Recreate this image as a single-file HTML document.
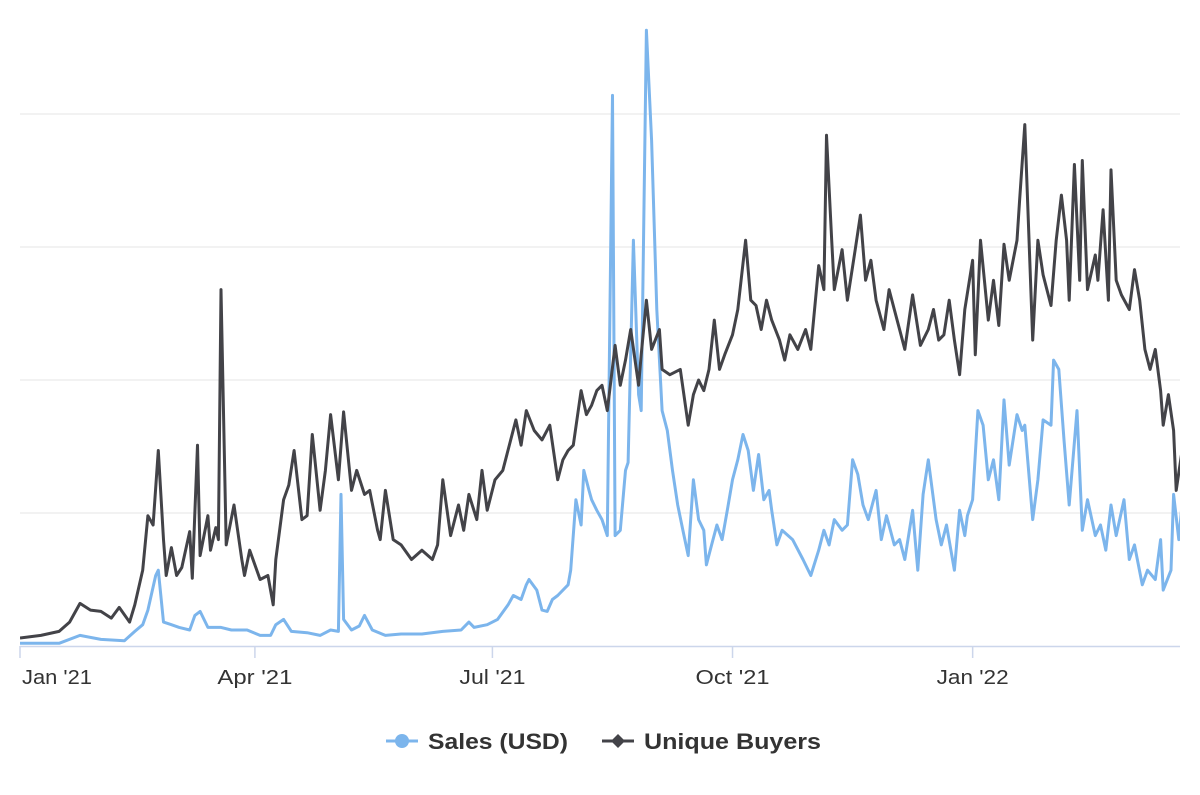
<!DOCTYPE html>
<html><head><meta charset="utf-8"><style>
html,body{margin:0;padding:0;background:#fff;}
svg{display:block;font-family:"Liberation Sans",sans-serif;}
</style></head><body>
<svg id="chart" width="1200" height="795" viewBox="0 0 1200 795" xmlns="http://www.w3.org/2000/svg">
<g id="grid"></g>
<g id="xaxis"></g>
<g id="series"></g>
<g id="legend">
  <g>
    <line x1="386" y1="741" x2="418" y2="741" stroke="#7cb5ec" stroke-width="3"/>
    <circle cx="402" cy="741" r="7" fill="#7cb5ec"/>
    <text x="428" y="749" font-size="22" font-weight="bold" fill="#333" textLength="140" lengthAdjust="spacingAndGlyphs">Sales (USD)</text>
  </g>
  <g>
    <line x1="602" y1="741" x2="634" y2="741" stroke="#434348" stroke-width="3"/>
    <path d="M618 734 L625 741 L618 748 L611 741 Z" fill="#434348"/>
    <text x="644" y="749" font-size="22" font-weight="bold" fill="#333" textLength="177" lengthAdjust="spacingAndGlyphs">Unique Buyers</text>
  </g>
</g>
</svg>
<script>
const buyerDays=[0,8,15,19,23,27,31,35,38,42,44,47,49,51,53,55,56,58,60,62,65,66,68,69,72,73,75,76,77,79,82,85,86,88,92,95,97,98,101,103,105,108,110,112,115,117,119,122,124,127,129,132,134,137,138,140,143,146,150,154,158,160,162,165,168,170,172,175,177,179,182,185,188,190,192,194,197,200,203,206,208,210,212,215,217,219,221,223,225,228,230,232,234,237,238,240,242,245,246,249,253,256,258,260,262,264,266,268,270,273,275,278,280,282,284,286,288,291,293,295,298,301,303,306,308,309,311,312,315,317,320,322,324,326,328,331,333,335,337,339,342,345,348,350,352,354,356,358,360,362,365,366,368,371,373,375,377,379,382,383,385,388,390,392,395,397,399,401,402,404,406,407,409,412,413,415,417,418,420,422,425,427,429,431,433,435,437,438,440,442,443,445,446];
const buyerValues=[6,8,11,18,32,27,26,21,29,18,31,57,98,91,147,80,53,74,53,59,86,51,151,68,98,72,89,80,268,76,106,65,53,72,50,53,31,65,110,121,147,95,98,159,102,132,174,125,176,117,132,114,117,87,80,117,80,76,65,72,65,76,125,83,106,87,114,95,132,102,125,132,155,170,151,177,162,155,166,125,140,147,151,192,174,181,192,196,177,226,196,215,238,196,219,260,223,238,208,204,208,166,189,200,192,208,245,208,219,234,253,305,260,256,238,260,245,230,215,234,223,238,223,286,268,384,305,268,298,260,298,324,275,290,260,238,268,253,238,223,264,226,238,253,230,234,260,230,204,253,290,219,305,245,275,241,302,275,305,335,392,230,305,279,256,305,339,305,260,362,275,365,268,294,275,328,260,358,275,264,253,283,260,223,208,223,192,166,189,162,117,144,146];
const salesDays=[0,15,23,31,40,44,47,49,52,53,55,58,61,65,67,69,72,77,81,87,92,96,98,101,104,110,115,119,122,123,124,127,130,132,135,140,146,154,162,169,172,174,179,183,187,189,192,194,195,198,200,202,204,206,210,211,213,215,216,218,219,221,223,225,227,228,230,232,233,235,237,238,240,242,244,246,248,250,252,254,256,258,260,262,263,265,267,269,271,273,275,277,279,281,283,285,287,288,290,292,296,300,303,306,308,310,312,315,317,319,321,323,325,328,330,332,335,337,339,342,344,346,348,351,353,355,358,360,362,363,365,367,369,371,373,375,377,379,382,384,385,388,390,392,395,396,398,400,402,405,407,409,412,414,416,418,420,423,425,427,430,432,435,437,438,441,442,444,445,446];
const salesValues=[2,2,8,5,4,11,16,27,53,57,18,16,14,12,23,26,14,14,12,12,8,8,16,20,11,10,8,12,11,114,20,12,15,23,12,8,9,9,11,12,18,14,16,20,31,38,35,46,50,42,27,26,35,38,46,57,110,91,132,117,110,102,95,83,414,83,87,132,138,305,189,177,463,380,253,177,162,132,106,87,68,125,95,87,61,76,91,80,102,125,140,159,147,117,144,110,117,102,76,87,80,65,53,72,87,76,95,87,91,140,129,106,95,117,80,98,76,80,65,102,57,114,140,95,76,91,57,102,83,98,110,177,166,125,140,110,185,136,174,162,166,95,125,170,166,215,208,155,106,177,87,110,83,91,72,106,83,110,65,76,46,57,50,80,42,57,114,80,102,53];
const tickDays=[0,90,181,273,365];
const tickLabels=["Jan '21","Apr '21","Jul '21","Oct '21","Jan '22"];
const gridValues=[100,200,300,400];

const NS="http://www.w3.org/2000/svg";
const X0=20,X1=1180,Y0=646;
const labelWidths=[70,75,66,74,72];
function xScale(d){return X0+d*2.61;}
function yScale(v){return Y0-v*1.33;}
function mk(tag,attrs,parent){const e=document.createElementNS(NS,tag);for(const k in attrs)e.setAttribute(k,attrs[k]);parent.appendChild(e);return e;}

const grid=document.getElementById('grid');
gridValues.forEach(v=>{
  const l=mk('line',{x1:X0,x2:X1,y1:yScale(v),y2:yScale(v),stroke:'#e6e6e6','stroke-width':1},grid);
  
  
});
const xa=document.getElementById('xaxis');
const axl=mk('line',{x1:X0,x2:X1,y1:Y0+0.5,y2:Y0+0.5,stroke:'#ccd6eb','stroke-width':1.5},xa);


tickDays.forEach((d,i)=>{
  const x=xScale(d);
  const t=mk('line',{x1:x,x2:x,y1:Y0,y2:Y0+12,stroke:'#ccd6eb','stroke-width':1.5},xa);
  
  
  const lb=mk('text',{x:i===0?x+2:x,y:684,'font-size':20,fill:'#333','text-anchor':i===0?'start':'middle',textLength:labelWidths[i],lengthAdjust:'spacingAndGlyphs'},xa);
  lb.textContent=tickLabels[i];
  
  
});
function linePath(days,vals){
  return days.map((d,i)=>(i?'L':'M')+xScale(d).toFixed(1)+' '+yScale(vals[i]).toFixed(1)).join(' ');
}
const sg=document.getElementById('series');
mk('clipPath',{id:'clip'},sg);
mk('rect',{x:X0,y:0,width:X1-X0,height:Y0+2},document.getElementById('clip'));
const s1=mk('path',{d:linePath(salesDays,salesValues),fill:'none',stroke:'#7cb5ec','stroke-width':3,'stroke-linejoin':'round','clip-path':'url(#clip)'},sg);


const s2=mk('path',{d:linePath(buyerDays,buyerValues),fill:'none',stroke:'#434348','stroke-width':3,'stroke-linejoin':'round','clip-path':'url(#clip)'},sg);


</script>
</body></html>
